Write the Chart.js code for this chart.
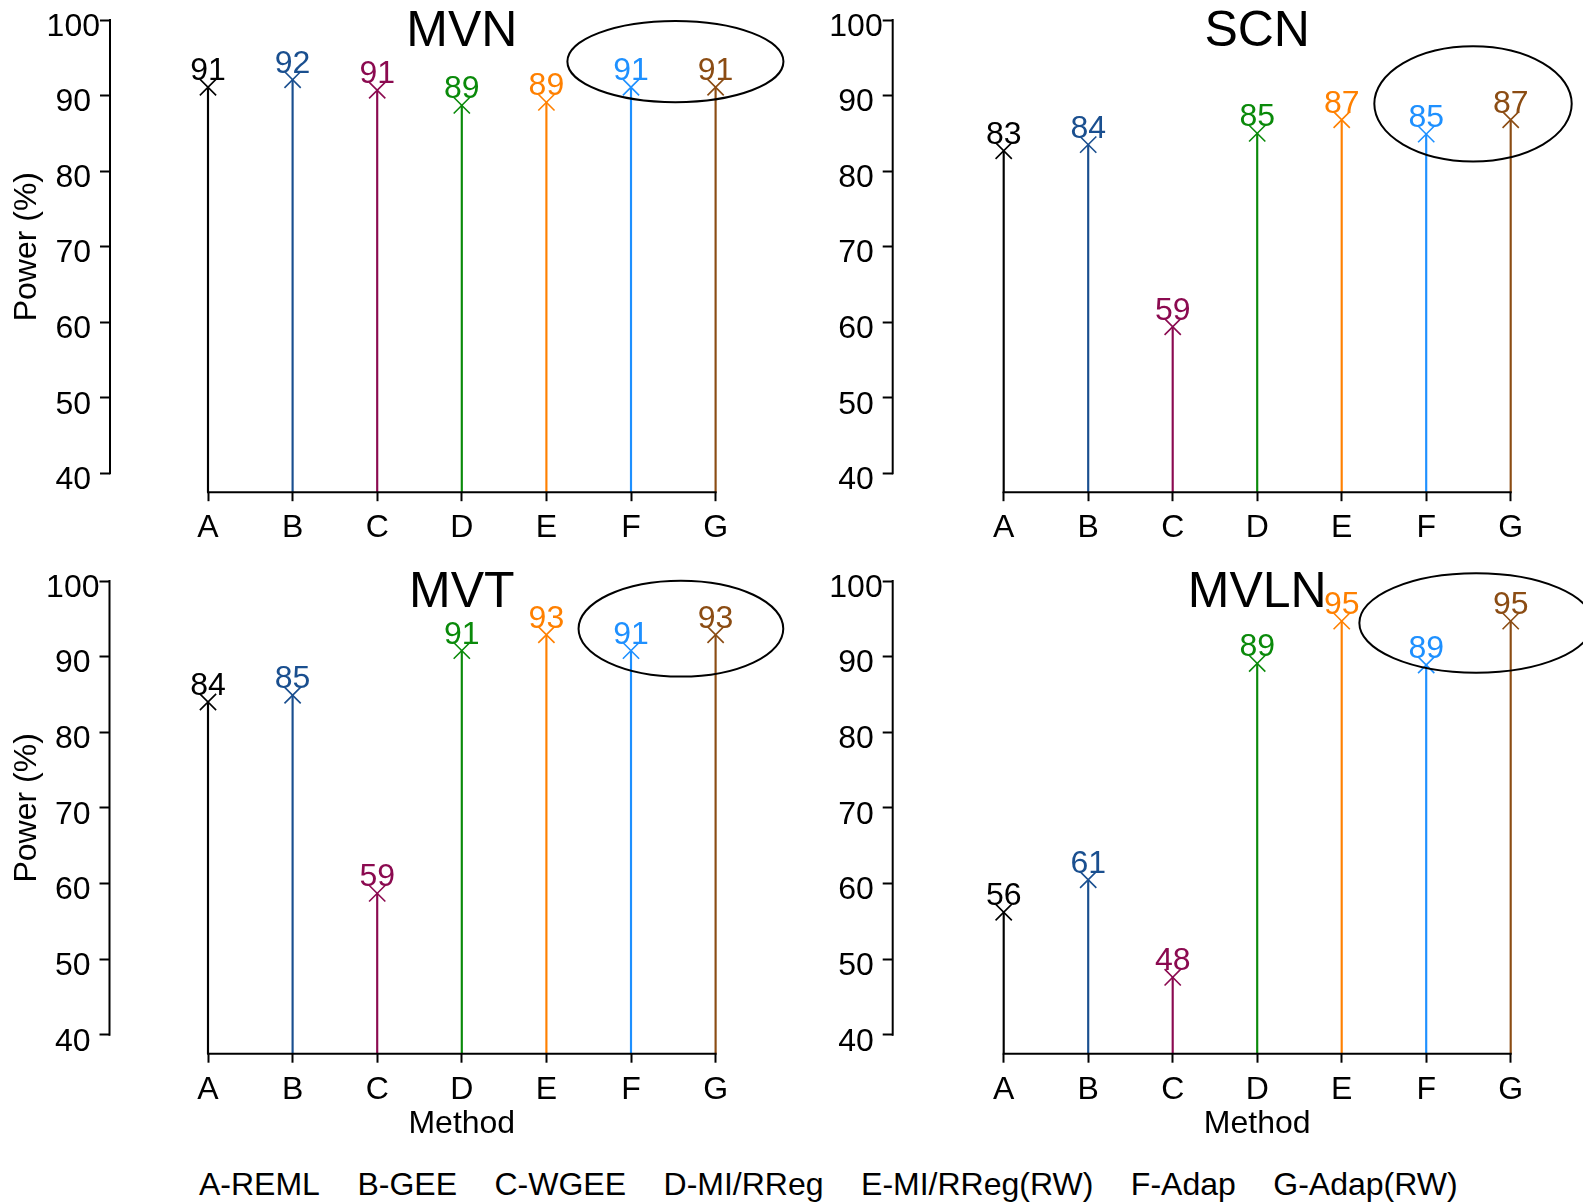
<!DOCTYPE html>
<html><head><meta charset="utf-8">
<script src="https://cdn.jsdelivr.net/npm/chart.js@4/dist/chart.umd.min.js"></script>
<style>
html,body{margin:0;padding:0;background:#fff;width:1583px;height:1204px;overflow:hidden;}
canvas{position:absolute;display:block;}
#legend{position:absolute;left:199px;top:1164px;display:flex;gap:37.5px;font:32px "Liberation Sans",Arial,sans-serif;color:#000;white-space:nowrap;line-height:40px;}
</style></head><body>
<canvas id="c0" width="791" height="560" style="left:0;top:0"></canvas>
<canvas id="c1" width="792" height="560" style="left:791px;top:0"></canvas>
<canvas id="c2" width="791" height="590" style="left:0;top:560px"></canvas>
<canvas id="c3" width="792" height="590" style="left:791px;top:560px"></canvas>
<div id="legend"></div>
<script>
// ---- data ----
const categories = ['A','B','C','D','E','F','G'];
const methodNames = ['A-REML','B-GEE','C-WGEE','D-MI/RReg','E-MI/RReg(RW)','F-Adap','G-Adap(RW)'];
const panelTitles = ['MVN','SCN','MVT','MVLN'];
const powerMVN  = [91.1, 92.1, 90.7, 88.7, 89.1, 91.1, 91.1];
const powerSCN  = [82.7, 83.5, 59.4, 85.0, 86.8, 84.9, 86.8];
const powerMVT  = [84.0, 84.9, 58.7, 90.8, 92.9, 90.8, 92.9];
const powerMVLN = [56.2, 60.5, 47.6, 89.1, 94.7, 88.9, 94.7];
const yTicks = [40, 50, 60, 70, 80, 90, 100];
const methodColors = ['#000000','#1a4f8f','#8b0a50','#0a8a0a','#ff8000','#1e90ff','#8b4c13'];
// highlight ellipses in data units: [centre x (method index), centre y (power), radius x, radius y]
const ellipseMVN  = [5.525, 94.5, 1.277, 5.37];
const ellipseSCN  = [5.554, 88.9, 1.168, 7.62];
const ellipseMVT  = [5.59, 93.7, 1.21, 6.34];
const ellipseMVLN = [5.59, 94.45, 1.381, 6.57];

const FONT = '"Liberation Sans", Arial, sans-serif';
const AXIS_BASE = 37.5;

document.getElementById('legend').innerHTML = methodNames.map(n => '<span>' + n + '</span>').join('');

const decorPlugin = {
  id: 'decor',
  afterDatasetsDraw(chart, args, o) {
    const ctx = chart.ctx, xs = chart.scales.x, ys = chart.scales.y, ca = chart.chartArea;
    ctx.save();
    ctx.strokeStyle = '#000'; ctx.lineWidth = 2; ctx.lineCap = 'butt';
    // detached y axis line (40..100)
    ctx.beginPath();
    ctx.moveTo(ca.left, ys.getPixelForValue(yTicks[0]) + 1);
    ctx.lineTo(ca.left, ys.getPixelForValue(yTicks[yTicks.length-1]) - 1);
    ctx.stroke();
    // x axis line from first to last method
    ctx.beginPath();
    ctx.moveTo(xs.getPixelForValue(0) - 1, ca.bottom);
    ctx.lineTo(xs.getPixelForValue(categories.length - 1) + 1, ca.bottom);
    ctx.stroke();
    // value labels
    const meta = chart.getDatasetMeta(1);
    const vals = chart.data.datasets[1].data;
    ctx.font = '32px ' + FONT;
    ctx.textAlign = 'center'; ctx.textBaseline = 'alphabetic';
    meta.data.forEach((pt, i) => {
      ctx.fillStyle = methodColors[i];
      ctx.fillText(String(Math.round(vals[i].y)), pt.x, pt.y - 7);
    });
    // ellipse
    const e = o.ellipse;
    const cx = xs.getPixelForValue(e[0]), cy = ys.getPixelForValue(e[1]);
    const rx = Math.abs(xs.getPixelForValue(e[0] + e[2]) - cx);
    const ry = Math.abs(ys.getPixelForValue(e[1] + e[3]) - cy);
    ctx.beginPath(); ctx.ellipse(cx, cy, rx, ry, 0, 0, Math.PI * 2);
    ctx.lineWidth = 2; ctx.strokeStyle = '#000'; ctx.stroke();
    // panel title
    ctx.fillStyle = '#000';
    ctx.font = '50px ' + FONT;
    ctx.fillText(o.title, xs.getPixelForValue(3), ys.getPixelForValue(100) + 26);
    // y title
    ctx.font = '32px ' + FONT;
    if (o.yTitle) {
      ctx.save();
      ctx.translate(27, ys.getPixelForValue(70));
      ctx.rotate(-Math.PI / 2);
      ctx.textBaseline = 'middle';
      ctx.fillText('Power (%)', 0, 0);
      ctx.restore();
    }
    if (o.xTitle) {
      ctx.textBaseline = 'middle';
      ctx.fillText('Method', xs.getPixelForValue(3), ca.bottom + 70);
    }
    ctx.restore();
  }
};

function makePanel(id, title, values, ellipse, geo, yTitle, xTitle) {
  const pts = values.map((v, i) => ({x: i, y: v}));
  return new Chart(document.getElementById(id), {
    type: 'bar',
    data: {
      datasets: [
        { type: 'bar', data: pts, backgroundColor: methodColors, borderWidth: 0,
          barThickness: 1.5, base: AXIS_BASE, clip: false, order: 2 },
        { type: 'scatter', data: pts, pointStyle: 'crossRot', pointRadius: 11.5,
          borderColor: methodColors, backgroundColor: methodColors, borderWidth: 1.6,
          showLine: false, clip: false, order: 1 }
      ]
    },
    options: {
      responsive: false, animation: false, devicePixelRatio: 1,
      layout: { padding: { top: geo.top, right: geo.right, left: 0, bottom: 0 } },
      plugins: { legend: { display: false }, tooltip: { enabled: false },
                 decor: { title: title, ellipse: ellipse, yTitle: yTitle, xTitle: xTitle } },
      scales: {
        x: {
          type: 'linear', min: geo.xMin, max: categories.length - 1, offset: false,
          afterBuildTicks: s => { s.ticks = categories.map((c, i) => ({ value: i })); },
          ticks: { callback: v => categories[v], font: { family: FONT, size: 32 }, color: '#000',
                   padding: 8, maxRotation: 0, autoSkip: false },
          grid: { display: true, offset: false, drawOnChartArea: false, drawTicks: true, tickLength: 9,
                  tickWidth: 2, tickColor: '#000' },
          border: { display: false },
          afterFit: s => { s.height = geo.xH; }
        },
        y: {
          type: 'linear', min: AXIS_BASE, max: 100,
          afterBuildTicks: s => { s.ticks = yTicks.map(v => ({ value: v })); },
          ticks: { font: { family: FONT, size: 32 }, color: '#000', padding: 0,
                   crossAlign: 'center', labelOffset: 7 },
          grid: { display: true, offset: false, drawOnChartArea: false, drawTicks: true, tickLength: 10,
                  tickWidth: 2, tickColor: '#000' },
          border: { display: false },
          afterFit: s => { s.width = geo.yW; }
        }
      }
    },
    plugins: [decorPlugin]
  });
}

makePanel('c0', panelTitles[0], powerMVN, ellipseMVN,
  { top: 20, right: 75.4, xMin: -98 / 84.6, xH: 67.8, yW: 110 }, true, false);
makePanel('c1', panelTitles[1], powerSCN, ellipseSCN,
  { top: 20, right: 72.3, xMin: -111 / 84.5, xH: 67.8, yW: 101.7 }, false, false);
makePanel('c2', panelTitles[2], powerMVT, ellipseMVT,
  { top: 21, right: 75.4, xMin: -98.5 / 84.6, xH: 96.3, yW: 109.5 }, true, true);
makePanel('c3', panelTitles[3], powerMVLN, ellipseMVLN,
  { top: 21, right: 72.3, xMin: -111 / 84.5, xH: 96.3, yW: 101.7 }, false, true);
</script>
</body></html>
